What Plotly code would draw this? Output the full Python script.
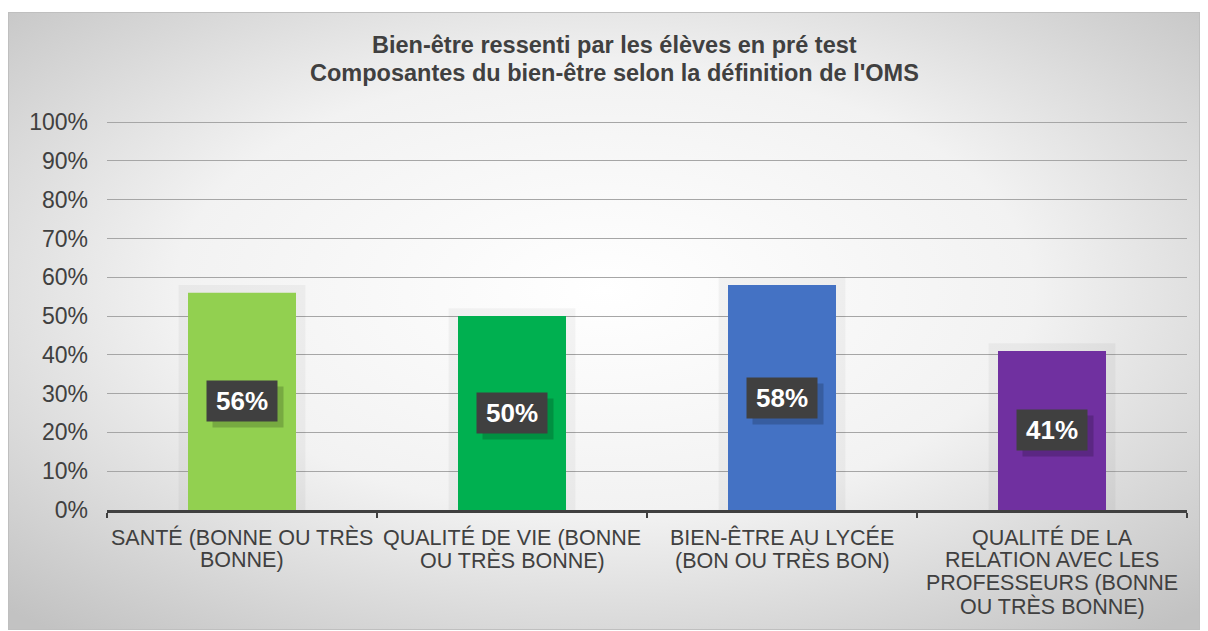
import base64
import plotly.graph_objects as go

category_lines = [
    ["SANTÉ (BONNE OU TRÈS", "BONNE)"],
    ["QUALITÉ DE VIE (BONNE", "OU TRÈS BONNE)"],
    ["BIEN-ÊTRE AU LYCÉE", "(BON OU TRÈS BON)"],
    ["QUALITÉ DE LA", "RELATION AVEC LES", "PROFESSEURS (BONNE", "OU TRÈS BONNE)"],
]
categories = [" ".join(l) for l in category_lines]
values = [56, 50, 58, 41]
colors = ["#92d050", "#00b050", "#4472c4", "#7030a0"]
title_lines = [
    "Bien-être ressenti par les élèves en pré test",
    "Composantes du bien-être selon la définition de l'OMS",
]
tick_vals = list(range(0, 101, 10))
tick_text = [f"{v}%" for v in tick_vals]

FONT = "Liberation Sans, Arial"
W, H = 1208, 631
ML, MR, MT, MB = 107, 21, 121, 121
pw = W - ML - MR
ph = H - MT - MB

svg = """<svg xmlns='http://www.w3.org/2000/svg' width='1192' height='618' viewBox='0 0 1192 618' preserveAspectRatio='none'>
<defs><radialGradient id='g' cx='0.5' cy='0.45' r='0.72' gradientUnits='objectBoundingBox'>
<stop offset='0' stop-color='#ffffff'/><stop offset='0.5' stop-color='#f2f2f2'/><stop offset='1' stop-color='#c2c2c2'/></radialGradient></defs>
<rect x='0' y='0' width='1192' height='618' fill='url(#g)' stroke='#bfbfbf' stroke-width='2'/></svg>"""
src = "data:image/svg+xml;base64," + base64.b64encode(svg.encode()).decode()


def px_x(p):
    return (p - ML) / pw


def px_y(p):
    return (H - MB - p) / ph


fig = go.Figure()
# soft halo behind bars
fig.add_trace(go.Bar(
    x=categories, y=[v + 2 for v in values],
    marker=dict(color="rgba(0,0,0,0.04)", line=dict(width=0)),
    width=0.47, showlegend=False, hoverinfo="skip",
))
fig.add_trace(go.Bar(
    x=categories, y=values, marker=dict(color=colors, line=dict(width=0)),
    width=0.4, showlegend=False, hoverinfo="skip",
))

for c, v in zip(categories, values):
    # shadow of the label box
    fig.add_annotation(
        x=c, y=v / 2, xref="x", yref="y", text=" ", showarrow=False,
        bgcolor="rgba(0,0,0,0.18)", borderpad=6, width=58, height=28,
        xshift=6, yshift=-6,
    )
    fig.add_annotation(
        x=c, y=v / 2, xref="x", yref="y",
        text=f"<b>{v}%</b>", showarrow=False,
        font=dict(family=FONT, size=26, color="white"),
        bgcolor="#404040", borderpad=6, width=58, height=28,
    )

for c, lines in zip(categories, category_lines):
    for i, line in enumerate(lines):
        fig.add_annotation(
            x=c, y=0, xref="x", yref="paper", text=line, showarrow=False,
            yanchor="middle", yshift=-(27 + 23 * i),
            font=dict(family=FONT, size=21.5, color="#404040"),
        )

# two-line title with tight line spacing
for i, t in enumerate(title_lines):
    fig.add_annotation(
        x=px_x(614), y=px_y(45 + 28 * i), xref="paper", yref="paper",
        text=f"<b>{t}</b>", showarrow=False, xanchor="center", yanchor="middle",
        font=dict(family=FONT, size=23.5, color="#404040"),
    )

fig.add_layout_image(dict(
    source=src, xref="paper", yref="paper",
    x=px_x(8), y=px_y(12), sizex=px_x(1200) - px_x(8), sizey=px_y(12) - px_y(630),
    xanchor="left", yanchor="top", sizing="stretch", layer="below",
))

fig.update_layout(
    width=W, height=H,
    margin=dict(l=ML, r=MR, t=MT, b=MB),
    paper_bgcolor="white", plot_bgcolor="rgba(0,0,0,0)",
    barmode="overlay",
    font=dict(family=FONT, color="#404040"),
    xaxis=dict(
        showline=True, linecolor="#404040", linewidth=3,
        ticks="outside", tickson="boundaries", ticklen=5, tickwidth=2, tickcolor="#404040",
        showticklabels=False, showgrid=False,
    ),
    yaxis=dict(
        range=[0, 100.3], tickvals=tick_vals, ticktext=tick_text,
        tickfont=dict(size=23, color="#404040"),
        showgrid=True, gridcolor="#a6a6a6", gridwidth=1,
        zeroline=False, showline=False, ticks="", ticklabelstandoff=18,
    ),
)

fig.write_html(
    "out.html",
    config={"displayModeBar": False},
    post_script="document.body.style.margin='0';document.body.style.overflow='hidden';",
)
